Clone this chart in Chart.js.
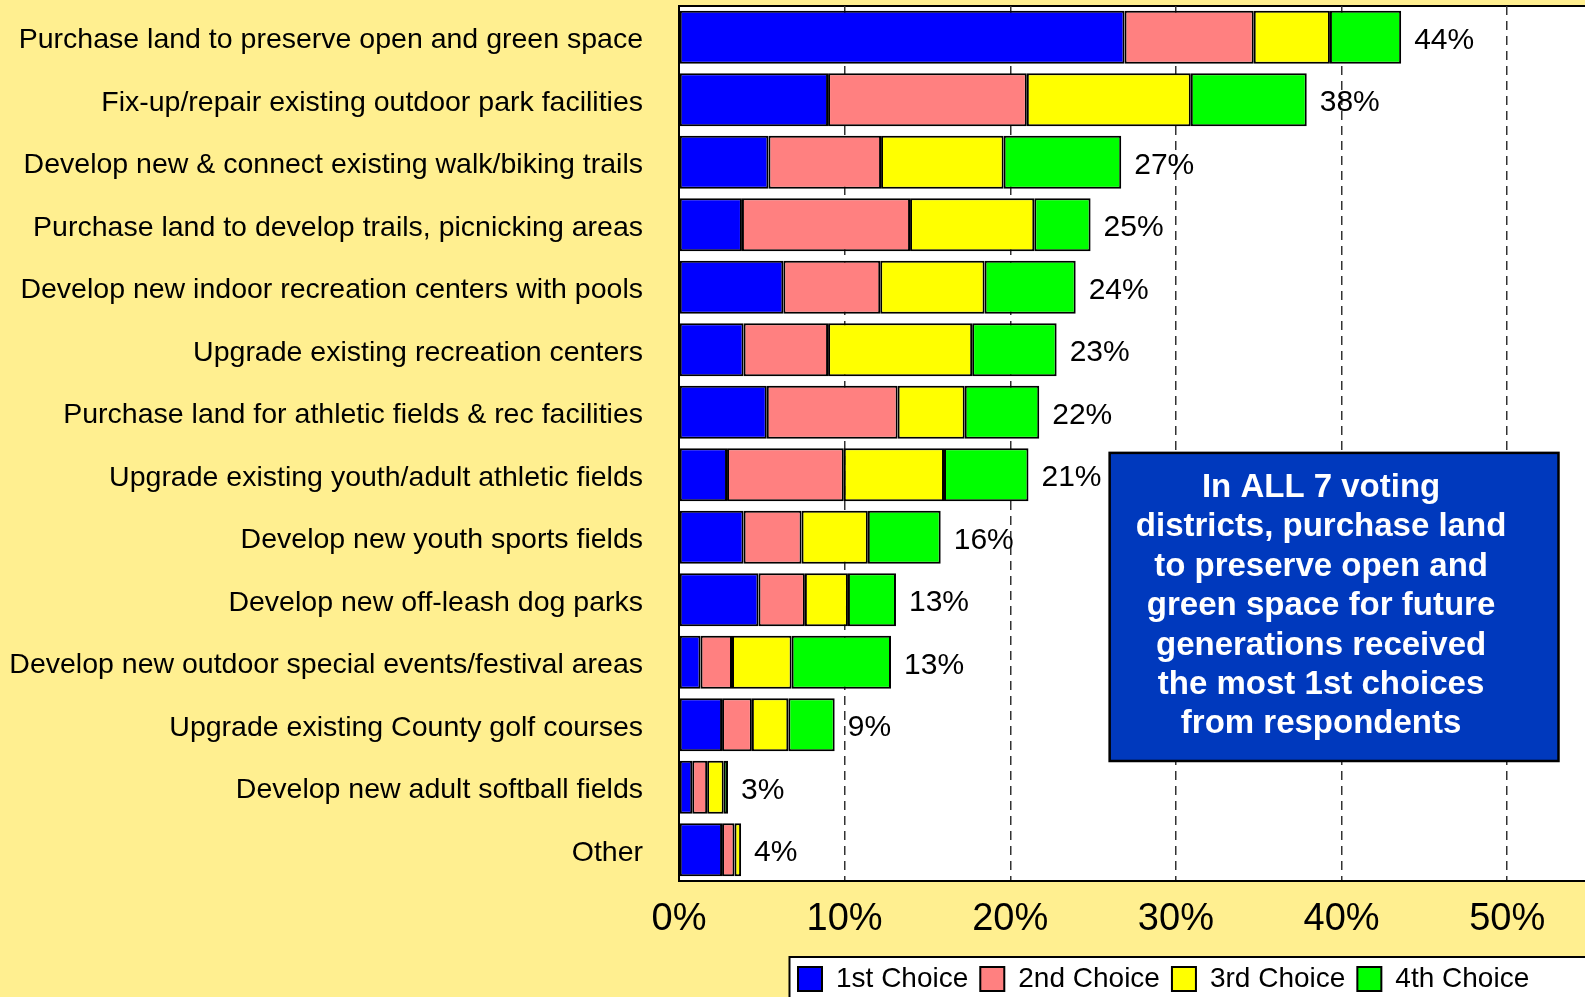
<!DOCTYPE html>
<html>
<head>
<meta charset="utf-8">
<script src="https://cdn.jsdelivr.net/npm/chart.js@4/dist/chart.umd.min.js"></script>
<style>
  html, body { margin: 0; padding: 0; background: #FFEF90; }
  canvas { display: block; }
</style>
</head>
<body>
<canvas id="chart" width="1585" height="997"></canvas>
<script>
const categories = [
    'Purchase land to preserve open and green space',
    'Fix-up/repair existing outdoor park facilities',
    'Develop new & connect existing walk/biking trails',
    'Purchase land to develop trails, picnicking areas',
    'Develop new indoor recreation centers with pools',
    'Upgrade existing recreation centers',
    'Purchase land for athletic fields & rec facilities',
    'Upgrade existing youth/adult athletic fields',
    'Develop new youth sports fields',
    'Develop new off-leash dog parks',
    'Develop new outdoor special events/festival areas',
    'Upgrade existing County golf courses',
    'Develop new adult softball fields',
    'Other'
];
const firstChoice  = [26.9, 9.0, 5.4, 3.8, 6.3, 3.9, 5.3, 2.9, 3.9, 4.8, 1.3, 2.6, 0.8, 2.6];
const secondChoice = [7.8, 12.0, 6.8, 10.15, 5.85, 5.1, 7.9, 7.05, 3.5, 2.8, 1.9, 1.8, 0.9, 0.75];
const thirdChoice  = [4.6, 9.9, 7.4, 7.5, 6.3, 8.7, 4.05, 6.05, 4.0, 2.6, 3.6, 2.2, 1.0, 0.4];
const fourthChoice = [4.3, 7.0, 7.1, 3.4, 5.5, 5.1, 4.5, 5.1, 4.4, 2.9, 6.0, 2.8, 0.26, 0];
const totalLabels  = ['44%', '38%', '27%', '25%', '24%', '23%', '22%', '21%', '16%', '13%', '13%', '9%', '3%', '4%'];
const xTicks = [0, 10, 20, 30, 40, 50];
const seriesNames = ['1st Choice', '2nd Choice', '3rd Choice', '4th Choice'];
const noteLines = [
    'In ALL 7 voting',
    'districts, purchase land',
    'to preserve open and',
    'green space for future',
    'generations received',
    'the most 1st choices',
    'from respondents'
];

const FONT = '"Liberation Sans", Arial, sans-serif';

// fond jaune, zone blanche, cadre de la légende, totaux et encadré bleu
const decor = {
    id: 'decor',
    afterLayout(chart) {
        const lg = chart.legend;
        lg.left = 786;
        lg.right = 1585;
        lg.top += 6;
        lg.bottom += 6;
    },
    beforeDraw(chart) {
        const { ctx, chartArea: a } = chart;
        ctx.save();
        ctx.fillStyle = '#FFEF90';
        ctx.fillRect(0, 0, chart.width, chart.height);
        ctx.fillStyle = '#FFFFFF';
        ctx.fillRect(a.left, a.top, a.right - a.left, a.bottom - a.top);
        ctx.strokeStyle = '#000';
        ctx.lineWidth = 2;
        ctx.beginPath();
        ctx.moveTo(a.left, a.top);
        ctx.lineTo(a.right, a.top);
        ctx.stroke();
        // cadre de la légende
        ctx.fillStyle = '#FFFFFF';
        ctx.fillRect(789.5, 957, chart.width - 789.5, chart.height - 957);
        ctx.strokeRect(789.5, 957, chart.width - 789.5 + 5, chart.height - 957 + 5);
        ctx.restore();
    },
    afterDraw(chart) {
        const { ctx } = chart;
        const xs = chart.scales.x, ys = chart.scales.y;
        ctx.save();
        ctx.fillStyle = '#000';
        ctx.font = '30px ' + FONT;
        ctx.textBaseline = 'middle';
        ctx.textAlign = 'left';
        totalLabels.forEach((t, i) => {
            const sum = firstChoice[i] + secondChoice[i] + thirdChoice[i] + fourthChoice[i];
            ctx.fillText(t, xs.getPixelForValue(sum) + 13, ys.getPixelForValue(i) + 3);
        });

        const left = xs.getPixelForValue(26), right = xs.getPixelForValue(53.1);
        const top = ys.getPixelForValue(6.65), bottom = ys.getPixelForValue(11.58);
        ctx.fillStyle = '#0039BD';
        ctx.fillRect(left, top, right - left, bottom - top);
        ctx.strokeStyle = '#000';
        ctx.lineWidth = 2.5;
        ctx.strokeRect(left, top, right - left, bottom - top);
        ctx.fillStyle = '#FFFFFF';
        ctx.font = 'bold 33px ' + FONT;
        ctx.textAlign = 'center';
        const cx = (left + right) / 2 - 13;
        noteLines.forEach((l, i) => {
            ctx.fillText(l, cx, top + 35 + i * 39.4);
        });
        ctx.restore();
    }
};

new Chart(document.getElementById('chart'), {
    type: 'bar',
    data: {
        labels: categories,
        datasets: [
            { label: seriesNames[0], data: firstChoice, backgroundColor: '#0000FF' },
            { label: seriesNames[1], data: secondChoice, backgroundColor: '#FF8080' },
            { label: seriesNames[2], data: thirdChoice, backgroundColor: '#FFFF00' },
            { label: seriesNames[3], data: fourthChoice, backgroundColor: '#00FF00' }
        ]
    },
    options: {
        indexAxis: 'y',
        responsive: false,
        animation: false,
        layout: { padding: { top: 6, left: 0, right: 0, bottom: 0 } },
        datasets: {
            bar: {
                borderColor: '#000',
                borderWidth: 2,
                borderSkipped: false,
                barPercentage: 0.85,
                categoryPercentage: 1
            }
        },
        scales: {
            x: {
                stacked: true,
                min: 0,
                max: 54.7,
                afterBuildTicks: s => { s.ticks = xTicks.map(v => ({ value: v })); },
                afterFit: s => {
                    const lh = s.chart.legend ? s.chart.legend.height : 0;
                    s.height = 997 - 881 - lh;
                },
                ticks: {
                    callback: v => v + '%',
                    font: { size: 38, family: FONT },
                    color: '#000',
                    padding: 16,
                    maxRotation: 0
                },
                grid: {
                    color: c => (c.tick && c.tick.value === 0) ? 'rgba(0,0,0,0)' : '#333',
                    lineWidth: 1.5,
                    drawTicks: false
                },
                border: { display: true, color: '#000', width: 2, dash: [9, 6] }
            },
            y: {
                stacked: true,
                afterFit: s => {
                    s.width = 679;
                    s.paddingTop = 0;
                    s.paddingBottom = 0;
                },
                ticks: {
                    font: { size: 28.5, family: FONT },
                    color: '#000',
                    padding: 36,
                    labelOffset: 3
                },
                grid: { display: false, drawTicks: false },
                border: { display: true, color: '#000', width: 2 }
            }
        },
        plugins: {
            legend: {
                position: 'bottom',
                align: 'start',
                labels: {
                    font: { size: 28, family: FONT },
                    color: '#000',
                    boxWidth: 24,
                    boxHeight: 24,
                    padding: 12
                }
            },
            tooltip: { enabled: false }
        }
    },
    plugins: [decor]
});
</script>
</body>
</html>
